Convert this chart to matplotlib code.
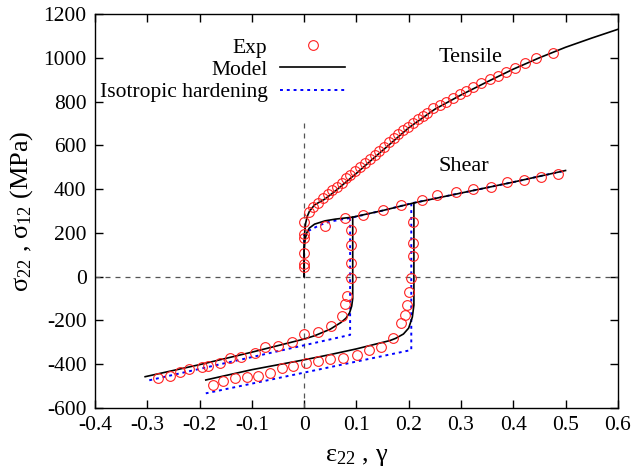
import numpy as np
import matplotlib
matplotlib.use('Agg')
import matplotlib.pyplot as plt
from matplotlib.ticker import FuncFormatter, MultipleLocator

plt.rcParams['font.family'] = 'serif'
plt.rcParams['font.serif'] = ['Liberation Serif', 'DejaVu Serif']
plt.rcParams['mathtext.fontset'] = 'custom'
plt.rcParams['mathtext.rm'] = 'Liberation Serif'
plt.rcParams['mathtext.it'] = 'Liberation Serif:italic'
plt.rcParams['axes.unicode_minus'] = False

# ---- tensile
tens_exp_x = [0, 0.010, 0.017, 0.027, 0.037, 0.045, 0.053, 0.062, 0.072, 0.080, 0.088,
              0.097, 0.107, 0.116, 0.126, 0.135, 0.144, 0.153, 0.163, 0.172, 0.180,
              0.189, 0.199, 0.209, 0.217, 0.227, 0.235, 0.247, 0.260, 0.272, 0.285,
              0.298, 0.310, 0.323, 0.339, 0.355, 0.371, 0.386, 0.403, 0.422, 0.444, 0.476]
tens_exp_y = [250, 297, 320, 338, 358, 378, 396, 411, 429, 449, 465,
              483, 500, 518, 536, 556, 574, 594, 614, 632, 650,
              670, 685, 701, 719, 734, 749, 769, 784, 799, 815,
              833, 848, 865, 883, 902, 917, 937, 955, 975, 998, 1023]
tens_mod_x = [0, 0, 0.001, 0.003, 0.006, 0.01, 0.02, 0.04, 0.06, 0.08, 0.1, 0.13, 0.16,
              0.2, 0.25, 0.3, 0.35, 0.4, 0.45, 0.5, 0.55, 0.6]
tens_mod_y = [0, 150, 200, 245, 275, 298, 328, 355, 392, 432, 472, 535, 597,
              680, 765, 830, 890, 948, 1000, 1048, 1090, 1130]

# ---- shear, monotonic
shear_exp_x = [0, 0, 0, 0, 0, 0.040, 0.078, 0.113, 0.151, 0.186, 0.226, 0.255, 0.290,
               0.323, 0.357, 0.388, 0.421, 0.453, 0.486]
shear_exp_y = [45, 60, 110, 175, 195, 232, 267, 282, 305, 328, 352, 373, 385,
               399, 411, 431, 442, 457, 468]
shear_mod_x = [0, 0, 0.002, 0.005, 0.01, 0.02, 0.04, 0.06, 0.093, 0.15, 0.21, 0.3, 0.4, 0.5]
shear_mod_y = [0, 120, 170, 200, 222, 240, 255, 263, 272, 302, 337, 382, 432, 485]
shear_iso_x = [0, 0, 0.005, 0.03, 0.05, 0.088, 0.15, 0.205, 0.3, 0.4, 0.5]
shear_iso_y = [0, 190, 205, 236, 252, 268, 302, 335, 382, 432, 485]

# ---- shear, reverse after 0.09
rev1_exp_x = [0.089, 0.089, 0.089, 0.089, 0.083, 0.078, 0.072, 0.051, 0.026, 0.0, -0.024,
              -0.050, -0.074, -0.094, -0.120, -0.141, -0.161, -0.183, -0.196, -0.220,
              -0.237, -0.257, -0.279]
rev1_exp_y = [213, 145, 61, -7, -87, -125, -178, -225, -251, -264, -299,
              -317, -323, -347, -368, -373, -396, -408, -411, -423,
              -434, -454, -461]
rev1_mod_x = [0.093, 0.093, 0.091, 0.087, 0.08, 0.07, 0.05, 0.02, 0.0, -0.1, -0.2, -0.304]
rev1_mod_y = [272, -100, -135, -165, -190, -210, -240, -270, -285, -345, -402, -457]
rev1_iso_x = [0.088, 0.088, -0.301]
rev1_iso_y = [268, -266, -476]

# ---- shear, reverse after 0.21
rev2_exp_x = [0.209, 0.209, 0.208, 0.204, 0.201, 0.196, 0.193, 0.186, 0.170, 0.147, 0.125,
              0.102, 0.075, 0.050, 0.026, 0.003, -0.021, -0.043, -0.065, -0.088,
              -0.110, -0.132, -0.155, -0.175]
rev2_exp_y = [251, 155, 95, -7, -68, -129, -175, -210, -281, -320, -335,
              -358, -373, -375, -385, -394, -410, -419, -438, -454,
              -457, -464, -475, -495]
rev2_mod_x = [0.21, 0.21, 0.207, 0.2, 0.19, 0.175, 0.164, 0.1, 0.05, 0.0, -0.1, -0.188]
rev2_mod_y = [337, -130, -185, -235, -262, -282, -292, -330, -356, -380, -425, -472]
rev2_iso_x = [0.205, 0.205, -0.188]
rev2_iso_y = [335, -335, -533]

vline_top = 700

fig = plt.figure(figsize=(6.33, 4.72), dpi=100)
ax = fig.add_axes([0.150, 0.1356, 0.826, 0.8347])

ax.axhline(0, color='#555555', lw=0.9, dashes=(4, 4))
ax.vlines(0, -600, vline_top, color='#555555', lw=0.9, linestyles=(0, (4, 4)))

iso_kw = dict(color='#0000ff', lw=1.4, linestyle=(0, (1.5, 2.0)))
mod_kw = dict(color='black', lw=1.2)
for xs, ys in [(shear_iso_x, shear_iso_y), (rev1_iso_x, rev1_iso_y), (rev2_iso_x, rev2_iso_y)]:
    ax.plot(xs, ys, **iso_kw)
ax.lines[-1].set_label('Isotropic hardening')
for xs, ys in [(tens_mod_x, tens_mod_y), (shear_mod_x, shear_mod_y),
               (rev1_mod_x, rev1_mod_y), (rev2_mod_x, rev2_mod_y)]:
    ax.plot(xs, ys, **mod_kw)
ax.lines[-1].set_label('Model')

exp_kw = dict(linestyle='none', marker='o', ms=7, mfc='none', mec='#ff2020', mew=0.8)
ax.plot(tens_exp_x, tens_exp_y, label='Exp', **exp_kw)
for xs, ys in [(shear_exp_x, shear_exp_y), (rev1_exp_x, rev1_exp_y), (rev2_exp_x, rev2_exp_y)]:
    ax.plot(xs, ys, **exp_kw)

ax.text(0.257, 1000, 'Tensile', fontsize=16, va='center', ha='left')
ax.text(0.257, 502, 'Shear', fontsize=16, va='center', ha='left')

ax.set_xlim(-0.4, 0.6)
ax.set_ylim(-600, 1200)
ax.xaxis.set_major_locator(MultipleLocator(0.1))
ax.yaxis.set_major_locator(MultipleLocator(200))
ax.xaxis.set_major_formatter(FuncFormatter(lambda v, p: '%g' % round(v, 3)))
ax.yaxis.set_major_formatter(FuncFormatter(lambda v, p: '%g' % round(v)))
ax.tick_params(direction='in', length=6, width=1, top=True, right=True,
               labelsize=15.5, pad=6)
for s in ax.spines.values():
    s.set_linewidth(1.0)

ax.set_xlabel('ε$_{22}$ , γ', fontsize=19, labelpad=8)
ax.set_ylabel('σ$_{22}$ , σ$_{12}$ (MPa)', fontsize=19, labelpad=6)

h, l = ax.get_legend_handles_labels()
order = [l.index('Exp'), l.index('Model'), l.index('Isotropic hardening')]
ax.legend([h[i] for i in order], [l[i] for i in order], loc='upper right',
          bbox_to_anchor=(0.478, 0.94), frameon=False, markerfirst=False,
          fontsize=15.5, handlelength=3.0, handletextpad=0.6, labelspacing=0.1,
          numpoints=1, borderaxespad=0, borderpad=0)

fig.savefig('out.png', dpi=100)
